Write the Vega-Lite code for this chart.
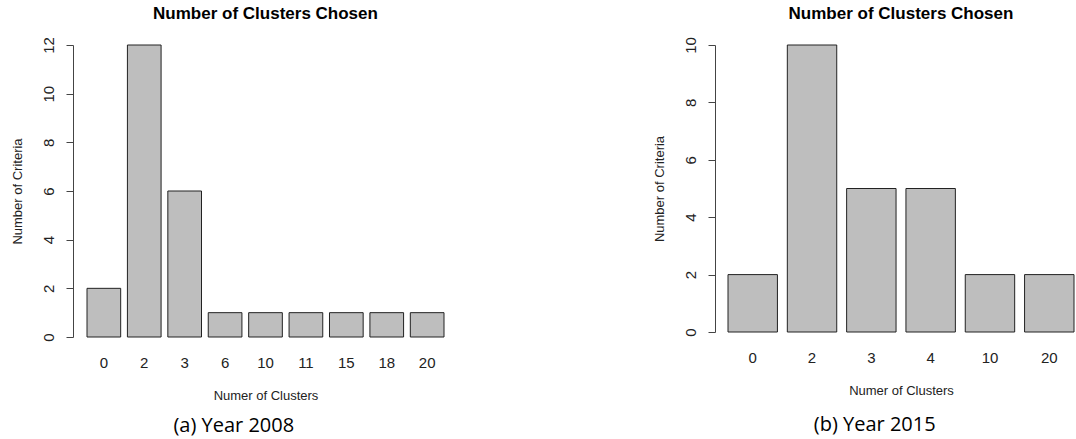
{
  "$schema": "https://vega.github.io/schema/vega-lite/v6.json",
  "padding": {"left": 10, "top": 4, "right": 4, "bottom": 4},
  "datasets": {
    "y2008": [
      {"clusters": "0", "criteria": 2},
      {"clusters": "2", "criteria": 12},
      {"clusters": "3", "criteria": 6},
      {"clusters": "6", "criteria": 1},
      {"clusters": "10", "criteria": 1},
      {"clusters": "11", "criteria": 1},
      {"clusters": "15", "criteria": 1},
      {"clusters": "18", "criteria": 1},
      {"clusters": "20", "criteria": 1}
    ],
    "y2015": [
      {"clusters": "0", "criteria": 2},
      {"clusters": "2", "criteria": 10},
      {"clusters": "3", "criteria": 5},
      {"clusters": "4", "criteria": 5},
      {"clusters": "10", "criteria": 2},
      {"clusters": "20", "criteria": 2}
    ]
  },
  "spacing": 208,
  "hconcat": [
    {
      "title": {"text": "(a) Year 2008", "orient": "bottom", "anchor": "middle", "frame": "bounds", "font": "Open Sans", "fontSize": 20, "fontWeight": "normal", "color": "#000", "offset": 14, "dx": 6},
      "vconcat": [
        {
          "data": {"name": "y2008"},
          "title": {"text": "Number of Clusters Chosen", "fontSize": 17, "fontWeight": "bold", "anchor": "middle", "frame": "group", "offset": 14, "color": "#000"},
          "width": 357,
          "height": 292,
          "mark": {"type": "bar", "fill": "#bebebe", "stroke": "#222", "strokeWidth": 1},
          "encoding": {
            "x": {"field": "clusters", "type": "nominal", "sort": null,
              "scale": {"paddingInner": 0.1667, "paddingOuter": 0},
              "axis": {"title": "Numer of Clusters", "labelAngle": 0, "domain": false, "ticks": false, "tickSize": 0, "labelPadding": 18, "titlePadding": 19}},
            "y": {"field": "criteria", "type": "quantitative",
              "scale": {"domain": [0, 12], "nice": false},
              "axis": {"title": "Number of Criteria", "values": [0, 2, 4, 6, 8, 10, 12], "grid": false, "offset": 14, "tickSize": 7, "labelAngle": 270, "labelAlign": "center", "labelBaseline": "bottom", "labelPadding": 10, "titlePadding": 17}}
          }
        }
      ]
    },
    {
      "title": {"text": "(b) Year 2015", "orient": "bottom", "anchor": "middle", "frame": "bounds", "font": "Open Sans", "fontSize": 20, "fontWeight": "normal", "color": "#000", "offset": 18, "dx": 11},
      "vconcat": [
        {
          "data": {"name": "y2015"},
          "title": {"text": "Number of Clusters Chosen", "fontSize": 17, "fontWeight": "bold", "anchor": "middle", "frame": "group", "offset": 14, "color": "#000"},
          "width": 346,
          "height": 287,
          "mark": {"type": "bar", "fill": "#bebebe", "stroke": "#222", "strokeWidth": 1},
          "encoding": {
            "x": {"field": "clusters", "type": "nominal", "sort": null,
              "scale": {"paddingInner": 0.1667, "paddingOuter": 0},
              "axis": {"title": "Numer of Clusters", "labelAngle": 0, "domain": false, "ticks": false, "tickSize": 0, "labelPadding": 18, "titlePadding": 19}},
            "y": {"field": "criteria", "type": "quantitative",
              "scale": {"domain": [0, 10], "nice": false},
              "axis": {"title": "Number of Criteria", "values": [0, 2, 4, 6, 8, 10], "grid": false, "offset": 13, "tickSize": 7, "labelAngle": 270, "labelAlign": "center", "labelBaseline": "bottom", "labelPadding": 10, "titlePadding": 17}}
          }
        }
      ]
    }
  ],
  "config": {
    "view": {"stroke": null},
    "font": "Liberation Sans",
    "axis": {"labelFont": "Liberation Sans", "labelFontSize": 15, "labelColor": "#222", "titleFont": "Liberation Sans", "titleFontSize": 13, "titleFontWeight": "normal", "titleColor": "#222", "domainColor": "#444", "tickColor": "#444", "domainWidth": 1, "tickWidth": 1},
    "title": {"font": "Liberation Sans"}
  }
}
